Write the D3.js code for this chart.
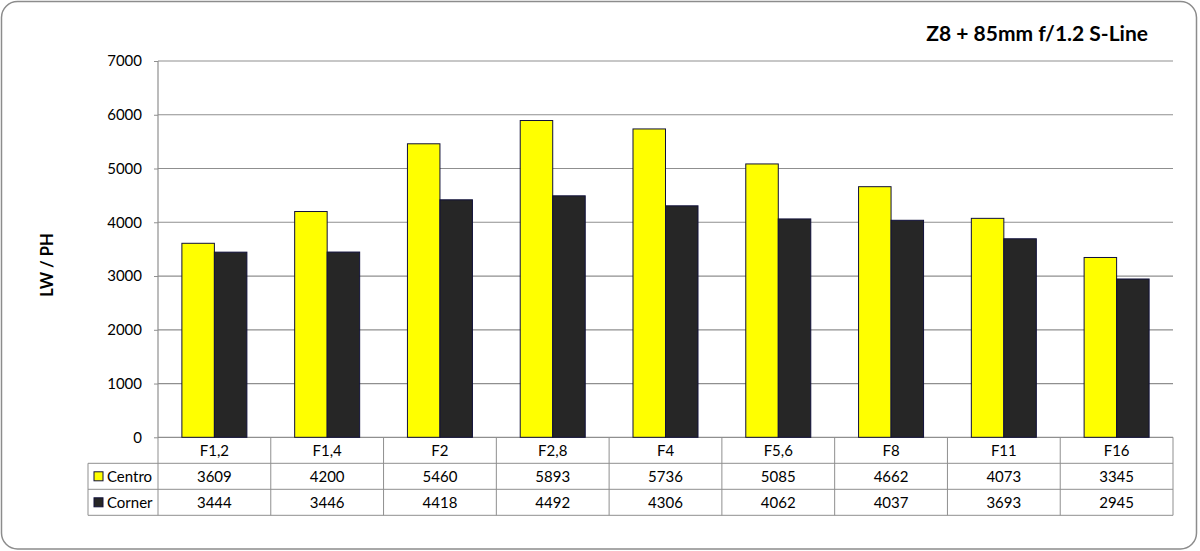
<!DOCTYPE html>
<html><head><meta charset="utf-8">
<script src="https://cdn.jsdelivr.net/npm/d3@7"></script>
<style>body{margin:0;background:#fff}svg{display:block}text{font-family:Lato,"Open Sans",sans-serif}</style>
</head><body><svg id="c" width="1200" height="551"></svg>
<script>
const categories = ["F1,2","F1,4","F2","F2,8","F4","F5,6","F8","F11","F16"];
const centro = [3609,4200,5460,5893,5736,5085,4662,4073,3345];
const corner = [3444,3446,4418,4492,4306,4062,4037,3693,2945];
const seriesNames = ["Centro","Corner"];
const seriesColors = ["#ffff00","#262626"];
const yTicks = [0,1000,2000,3000,4000,5000,6000,7000];
const title = "Z8 + 85mm f/1.2 S-Line";
const yLabel = "LW / PH";

const svg = d3.select("#c");
const L=158, R=1173, T=61, B=437.3;
const rowH = 26;
const legendL = 88;

svg.append("rect").attr("x",1.5).attr("y",1.5).attr("width",1195).attr("height",547.5)
  .attr("rx",16).attr("fill","#fff").attr("stroke","#8c8c8c").attr("stroke-width",1.5);

const x = d3.scaleBand().domain(categories).range([L,R]).paddingInner(0).paddingOuter(0);
const xs = d3.scaleBand().domain(seriesNames).range([0,x.bandwidth()]).paddingInner(0).paddingOuter(0.735);
const y = d3.scaleLinear().domain([0,7000]).range([B,T]);

// gridlines
svg.append("g").selectAll("line").data(yTicks).join("line")
  .attr("x1",L).attr("x2",R).attr("y1",d=>y(d)).attr("y2",d=>y(d))
  .attr("stroke","#8f8f8f").attr("stroke-width",1.2);
svg.append("line").attr("x1",L).attr("x2",L).attr("y1",T).attr("y2",B).attr("stroke","#8f8f8f").attr("stroke-width",1.2);

// y axis labels
const yAxis = d3.axisLeft(y).tickValues(yTicks).tickSize(4).tickPadding(12).tickFormat(d3.format("d"));
const ga = svg.append("g").attr("transform",`translate(${L},0)`).call(yAxis);
ga.select(".domain").remove();
ga.selectAll(".tick line").attr("stroke","#8f8f8f");
ga.selectAll("text").attr("font-size",15).attr("fill","#000");

// bars
const data = categories.map((c,i)=>({c, vals:[centro[i],corner[i]]}));
const grp = svg.append("g").selectAll("g").data(data).join("g").attr("transform",d=>`translate(${x(d.c)},0)`);
grp.selectAll("rect").data(d=>d.vals.map((v,j)=>({s:seriesNames[j],v,j}))).join("rect")
  .attr("x",d=>xs(d.s)).attr("width",xs.bandwidth())
  .attr("y",d=>y(d.v)).attr("height",d=>B-y(d.v))
  .attr("fill",d=>seriesColors[d.j]).attr("stroke","#10103a").attr("stroke-width",1);

// table
const tg = svg.append("g");
const lineC = "#8f8f8f";
tg.append("line").attr("x1",legendL).attr("x2",R).attr("y1",B+rowH).attr("y2",B+rowH).attr("stroke",lineC);
tg.append("line").attr("x1",legendL).attr("x2",R).attr("y1",B+2*rowH).attr("y2",B+2*rowH).attr("stroke",lineC);
tg.append("line").attr("x1",legendL).attr("x2",R).attr("y1",B+3*rowH).attr("y2",B+3*rowH).attr("stroke",lineC);
tg.append("line").attr("x1",legendL).attr("x2",legendL).attr("y1",B+rowH).attr("y2",B+3*rowH).attr("stroke",lineC);
tg.selectAll(".vl").data(categories.concat(["_end"])).join("line")
  .attr("x1",(d,i)=>L+i*x.bandwidth()).attr("x2",(d,i)=>L+i*x.bandwidth())
  .attr("y1",B).attr("y2",B+3*rowH).attr("stroke",lineC);
tg.selectAll(".cat").data(categories).join("text")
  .attr("x",d=>x(d)+x.bandwidth()/2).attr("y",B+rowH/2+5.5)
  .attr("text-anchor","middle").attr("font-size",15).text(d=>d);
[centro,corner].forEach((arr,j)=>{
  const yy = B+(j+1)*rowH+rowH/2+5.5;
  tg.selectAll(".v"+j).data(arr).join("text")
    .attr("x",(d,i)=>x(categories[i])+x.bandwidth()/2).attr("y",yy)
    .attr("text-anchor","middle").attr("font-size",15).text(d=>d);
  tg.append("rect").attr("x",94).attr("y",B+(j+1)*rowH+rowH/2-4.5).attr("width",9).attr("height",9)
    .attr("fill",seriesColors[j]).attr("stroke","#10103a").attr("stroke-width",1);
  tg.append("text").attr("x",107).attr("y",yy).attr("font-size",15).text(seriesNames[j]);
});

// title
svg.append("text").attr("x",1148).attr("y",41).attr("text-anchor","end")
  .attr("font-size",21).attr("font-weight","bold").text(title);
// y label
svg.append("text").attr("transform",`translate(53,265) rotate(-90)`)
  .attr("text-anchor","middle").attr("font-size",16.5).attr("font-weight","bold").text(yLabel);
</script></body></html>
